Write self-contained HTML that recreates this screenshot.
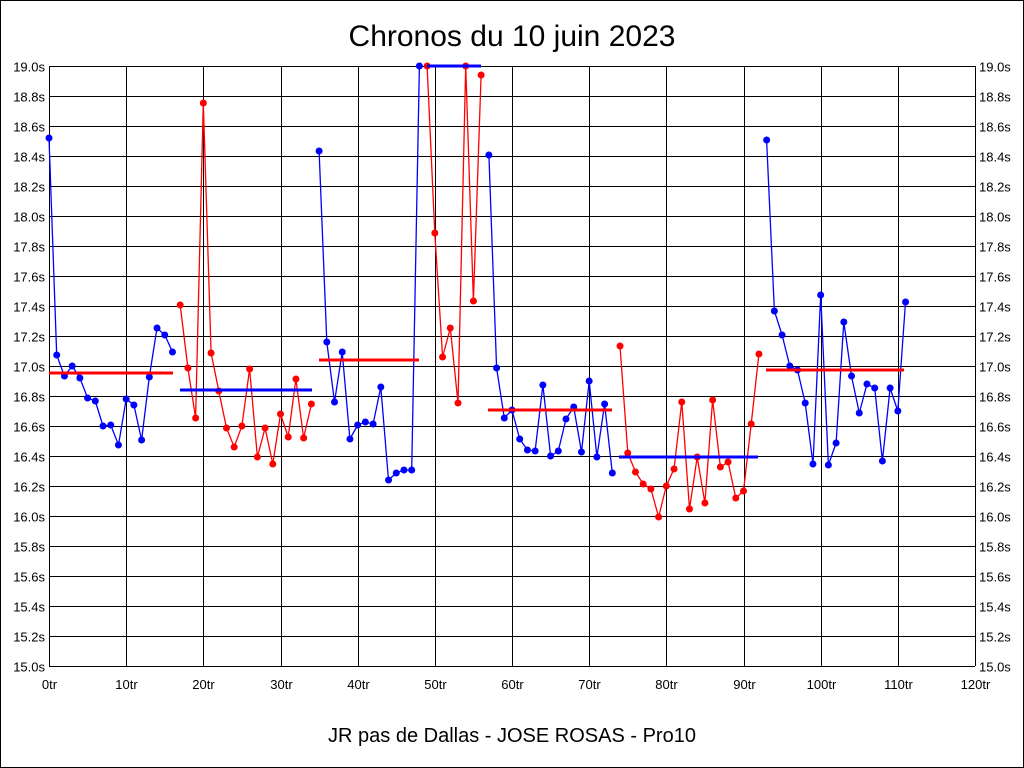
<!DOCTYPE html>
<html><head><meta charset="utf-8"><style>
html,body{margin:0;padding:0;background:#fff;}
svg{display:block;font-family:"Liberation Sans",sans-serif;}
</style></head><body>
<svg id="s" width="1024" height="768" viewBox="0 0 1024 768" xmlns="http://www.w3.org/2000/svg">
<rect x="0.5" y="0.5" width="1023" height="767" fill="#fff" stroke="#000"/>
<text x="512" y="46" font-size="30" text-anchor="middle">Chronos du 10 juin 2023</text>
<text x="512" y="742" font-size="20" text-anchor="middle">JR pas de Dallas - JOSE ROSAS - Pro10</text>
<g id="grid" stroke="#000" stroke-width="1"></g>
<g id="lab" font-size="13"></g>
<g id="data"></g>
</svg>
<script>
var NS="http://www.w3.org/2000/svg";
function el(p,t,a,txt){var e=document.createElementNS(NS,t);for(var k in a)e.setAttribute(k,a[k]);if(txt!==undefined)e.textContent=txt;p.appendChild(e);return e;}
var g=document.getElementById('grid'),lab=document.getElementById('lab'),d=document.getElementById('data');
var X0=49,X1=975,Y0=66,Y1=666;
function X(n){return X0+(X1-X0)*n/120;}
for(var i=0;i<=20;i++){var y=Y0+i*30+0.5;el(g,'line',{x1:X0,x2:X1,y1:y,y2:y});
 var v=(19-i*0.2).toFixed(1)+'s';
 el(lab,'text',{x:45,y:y+5,'text-anchor':'end'},v);el(lab,'text',{x:979,y:y+5},v);}
for(var i=0;i<=12;i++){var x=Math.round(X(i*10))+0.5;el(g,'line',{x1:x,x2:x,y1:Y0,y2:Y1});
 el(lab,'text',{x:x,y:689,'text-anchor':'middle'},(i*10)+'tr');}
var S=[
[0,'b',[138,355,376,366,378,398,401,426,425,445,399,405,440,377,328,335,352]],
[17,'r',[305,368,418,103,353,391,428,447,426,369,457,428,464,414,437,379,438,404]],
[35,'b',[151,342,402,352,439,425,422,424,387,480,473,470,470,66]],
[49,'r',[66,233,357,328,403,66,301,75]],
[57,'b',[155,368,418,410,439,450,451,385,456,451,419,407,452,381,457,404,473]],
[74,'r',[346,453,472,484,489,517,486,469,402,509,457,503,400,467,462,498,491,424,354]],
[93,'b',[140,311,335,366,370,403,464,295,465,443,322,376,413,384,388,461,388,411,302]]];
var A=[[49,173,373,'r'],[180,312,390,'b'],[319,419,360,'r'],[427,481,66,'b'],[488,612,410,'r'],[619,758,457,'b'],[766,904,370,'r']];
var C={b:'#0000ff',r:'#ff0000'};
S.forEach(function(s){var pts=s[2].map(function(y,i){return X(s[0]+i).toFixed(1)+','+y;}).join(' ');
 el(d,'polyline',{points:pts,fill:'none',stroke:C[s[1]],'stroke-width':1.3});
 s[2].forEach(function(y,i){el(d,'circle',{cx:X(s[0]+i),cy:y,r:3.5,fill:C[s[1]]});});});
A.forEach(function(a){el(d,'line',{x1:a[0],x2:a[1],y1:a[2],y2:a[2],stroke:C[a[3]],'stroke-width':3});});
</script>
</body></html>
